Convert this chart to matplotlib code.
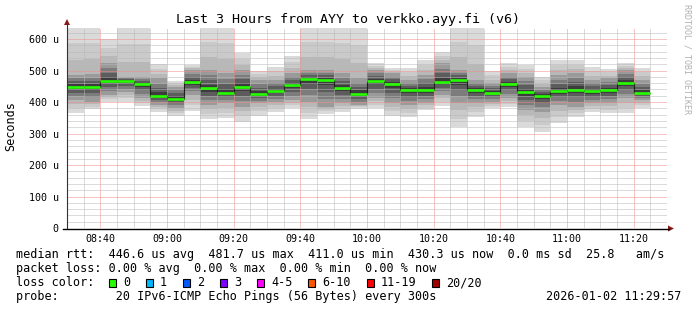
import matplotlib
matplotlib.use('Agg')
import matplotlib.pyplot as plt
import numpy as np
import pandas as pd
from matplotlib.patches import Rectangle, Polygon
from matplotlib.lines import Line2D

# ---------------- data (microseconds) ----------------
window_start = '2026-01-02 08:30'
window_end = '2026-01-02 11:30'
step_minutes = 5
median_us = [449, 449, 468, 468, 457, 420, 411, 463, 444, 430, 448, 425, 434, 454, 472,
             470, 444, 427, 467, 456, 438, 438, 465, 470, 437, 430, 457, 432, 418, 436,
             439, 434, 437, 461, 430]
max_us = [640, 640, 600, 640, 640, 521, 467, 517, 640, 640, 555, 499, 512, 547, 640,
          640, 640, 640, 523, 507, 507, 533, 558, 640, 640, 499, 523, 517, 480, 533,
          533, 512, 504, 523, 507]
min_us = [366, 377, 401, 401, 387, 369, 356, 372, 346, 350, 338, 357, 369, 380, 346,
          362, 367, 379, 380, 357, 353, 374, 387, 320, 353, 380, 385, 322, 306, 332,
          353, 369, 364, 364, 380]
upper_q_us = [486, 490, 523, 480, 480, 475, 449, 502, 502, 491, 502, 470, 470, 491, 502,
              502, 491, 475, 502, 491, 470, 486, 523, 502, 470, 459, 491, 481, 449, 486,
              491, 470, 475, 502, 470]
lower_q_us = [406, 401, 422, 432, 412, 390, 380, 422, 390, 396, 385, 396, 401, 406, 401,
              385, 396, 390, 412, 396, 390, 396, 422, 396, 396, 401, 412, 374, 369, 390,
              385, 396, 396, 412, 406]
y_ticks = [0, 100, 200, 300, 400, 500, 600]
y_tick_labels = ['0', '100 u', '200 u', '300 u', '400 u', '500 u', '600 u']
x_tick_times = ['08:40', '09:00', '09:20', '09:40', '10:00', '10:20', '10:40', '11:00', '11:20']

loss_labels = ['0', '1', '2', '3', '4-5', '6-10', '11-19', '20/20']
loss_colors = ['#26ff00', '#00b8ff', '#0059ff', '#7e00ff', '#ff00ff', '#ff5500', '#ff0000', '#a10000']

title = 'Last 3 Hours from AYY to verkko.ayy.fi (v6)'
line1 = 'median rtt:  446.6 us avg  481.7 us max  411.0 us min  430.3 us now  0.0 ms sd  25.8   am/s'
line2 = 'packet loss: 0.00 % avg  0.00 % max  0.00 % min  0.00 % now'
line3 = 'loss color:'
line4 = 'probe:        20 IPv6-ICMP Echo Pings (56 Bytes) every 300s'
stamp = '2026-01-02 11:29:57'

# ---------------- figure ----------------
W, H = 697, 310
fig = plt.figure(figsize=(W / 100, H / 100), dpi=100)
fig.patch.set_facecolor('white')
MONO = 'DejaVu Sans Mono'

ax = fig.add_axes([67 / W, (H - 228) / H, 600 / W, 200 / H])
ax.set_facecolor('white')

t0 = pd.Timestamp(window_start)
t1 = pd.Timestamp(window_end)
starts = pd.date_range(t0, periods=len(median_us), freq=f'{step_minutes}min')
x = np.array((starts - t0).total_seconds() / 60.0)
xmax = (t1 - t0).total_seconds() / 60.0

med = np.array(median_us, float)
lo = np.array(min_us, float)
hi = np.array(max_us, float)
qlo = np.array(lower_q_us, float)
qhi = np.array(upper_q_us, float)

# smoke: nested shaded bands from extremes toward the median
outer_cols = ['#dadada', '#cacaca', '#b8b8b8']
outer_fr = [0.0, 0.35, 0.7]
for c, f in zip(outer_cols, outer_fr):
    b = lo + (qlo - lo) * f
    t = hi + (qhi - hi) * f
    ax.bar(x, t - b, bottom=b, width=step_minutes, align='edge', color=c,
           linewidth=0, zorder=1)
inner_cols = ['#9a9a9a', '#7c7c7c', '#5c5c5c', '#3c3c3c']
inner_fr = [0.0, 0.3, 0.55, 0.8]
for c, f in zip(inner_cols, inner_fr):
    b = qlo + (med - qlo) * f
    t = qhi + (med - qhi) * f
    ax.bar(x, t - b, bottom=b, width=step_minutes, align='edge', color=c,
           linewidth=0, zorder=1)

ax.set_xlim(0, xmax)
ax.set_ylim(0, 635)

# grid on top of smoke
ax.set_yticks(y_ticks)
ax.set_yticklabels(y_tick_labels, fontfamily=MONO, fontsize=7.2)
ax.set_yticks(np.arange(0, 636, 20), minor=True)
xt = [(pd.Timestamp(window_start[:11] + s) - t0).total_seconds() / 60 for s in x_tick_times]
ax.set_xticks(xt)
ax.set_xticklabels(x_tick_times, fontfamily=MONO, fontsize=7.2)
ax.set_xticks(np.arange(0, xmax + 0.1, step_minutes), minor=True)
ax.tick_params(which='both', length=0)
ax.tick_params(axis='y', pad=6)
ax.tick_params(axis='x', pad=4)
ax.grid(which='minor', color='#b8b8b8', linestyle=(0, (1, 1)), linewidth=0.72, zorder=2)
ax.grid(which='major', color='#f08a8a', linestyle=(0, (1, 1)), linewidth=0.72, zorder=2)
ax.set_axisbelow(False)
for s in ax.spines.values():
    s.set_visible(False)

# median line
edges = np.append(x, x[-1] + step_minutes)
ax.stairs(med, edges, baseline=None, color='#202020', linewidth=0.8, zorder=3)
ax.hlines(med, x, x + step_minutes, color=loss_colors[0], linewidth=1.9, zorder=4,
          capstyle='butt')

# axis lines with arrows (pixel layout)
def px(xp, yp):
    return xp / W, 1 - yp / H

fig.add_artist(Line2D(*zip(px(67, 228), px(67, 24)), color='#333333', linewidth=0.8))
fig.add_artist(Line2D(*zip(px(63, 228.5), px(669, 228.5)), color='black', linewidth=1.0))
fig.add_artist(Polygon([px(64, 25), px(70, 25), px(67, 19)], closed=True,
                       transform=fig.transFigure, color='#8b1a1a', linewidth=0))
fig.add_artist(Polygon([px(668, 225.5), px(668, 231.5), px(674, 228.5)], closed=True,
                       transform=fig.transFigure, color='#8b1a1a', linewidth=0))

# texts
fig.text(348 / W, 1 - 19.5 / H, title, ha='center', va='center', fontfamily=MONO,
         fontsize=9.6)
fig.text(11 / W, 1 - 126 / H, 'Seconds', rotation=90, ha='center', va='center',
         fontfamily=MONO, fontsize=8.5)
fig.text(687 / W, 1 - 4 / H, 'RRDTOOL / TOBI OETIKER', rotation=270, ha='center',
         va='top', fontfamily=MONO, fontsize=6, color='#b0b0b0')

for yy, s in [(254.5, line1), (268.5, line2), (282.5, line3), (296.5, line4)]:
    fig.text(16 / W, 1 - yy / H, s, ha='left', va='center', fontfamily=MONO, fontsize=8.5)
fig.text(681 / W, 1 - 296.5 / H, stamp, ha='right', va='center', fontfamily=MONO,
         fontsize=8.5)

lx = 123.0
for lab, col in zip(loss_labels, loss_colors):
    sx = lx - 14.3
    fig.add_artist(Rectangle(px(sx, 286.5), 7 / W, 8 / H, transform=fig.transFigure,
                             facecolor=col, edgecolor='black', linewidth=0.8))
    fig.text(lx / W, 1 - 282.5 / H, lab, ha='left', va='center', fontfamily=MONO,
             fontsize=8.5)
    lx += len(lab) * 7.1 + 30

fig.savefig('out.png', dpi=100, facecolor='white')
